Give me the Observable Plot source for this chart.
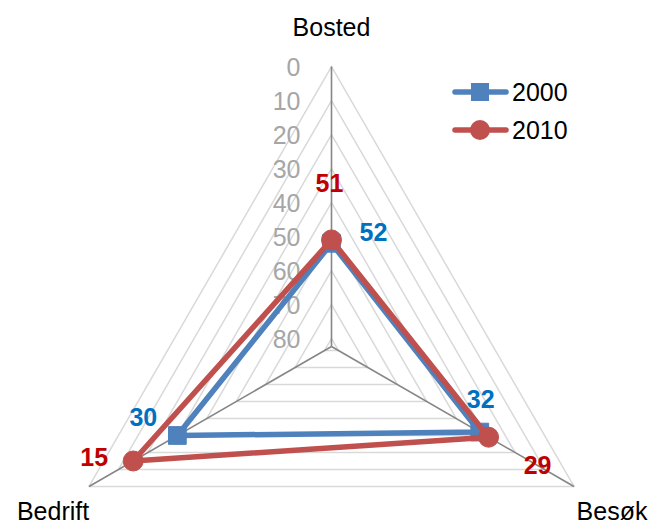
<!DOCTYPE html>
<html>
<head>
<meta charset="utf-8">
<script src="https://cdn.jsdelivr.net/npm/d3@7"></script>
<script src="https://cdn.jsdelivr.net/npm/@observablehq/plot@0.6"></script>
<style>
  html, body { margin: 0; padding: 0; background: #fff; }
  #wrap { position: relative; width: 651px; height: 524px; font-family: "Liberation Sans", Arial, sans-serif; }
  #legend { position: absolute; left: 452px; top: 73px; font-size: 25px; color: #000; }
  #legend .row { display: flex; align-items: center; height: 38px; }
  #legend svg { display: block; margin-right: 2px; }
</style>
</head>
<body>
<div id="wrap"><div id="chart"></div><div id="legend"></div></div>
<script>
// ---- data ----
const categories = ["Bosted", "Besøk", "Bedrift"];
const series = ["2000", "2010"];
const values2000 = [52, 32, 30];
const values2010 = [51, 29, 15];
const tickValues = [0, 10, 20, 30, 40, 50, 60, 70, 80];
const tickLabels = ["0", "10", "20", "30", "40", "50", "60", "70", "80"];

// ---- geometry (reversed radial axis: 0 outside, centre ~82.35) ----
const axisMax = 82.35;
const angleOf = i => (i * 120) * Math.PI / 180;
const polar = (i, v) => {
  const r = axisMax - v;
  return { x: r * Math.sin(angleOf(i)), y: r * Math.cos(angleOf(i)) };
};

const colors = { "2000": "#4f81bd", "2010": "#c0504d" };
const labelColors = { "2000": "#0070c0", "2010": "#c00000" };

const seriesData = [];
[values2000, values2010].forEach((vals, s) => {
  vals.forEach((v, i) => seriesData.push({ series: series[s], category: categories[i], value: v, ...polar(i, v) }));
});

const gridData = [];
tickValues.forEach(t => categories.forEach((c, i) => gridData.push({ t, ...polar(i, t) })));

const spokes = categories.map((c, i) => ({ category: c, x1: 0, y1: 0, x2: polar(i, 0).x, y2: polar(i, 0).y }));
const tickData = tickValues.map((t, k) => ({ label: tickLabels[k], ...polar(0, t) }));
const catData = categories.map((c, i) => ({ category: c, ...polar(i, 0) }));

// ---- layout ----
const W = 651, H = 524, cx = 331, cy = 346, k = 3.4;
const xDomain = [-cx / k, (W - cx) / k];
const yDomain = [-(H - cy) / k, cy / k];

const catOffsets = { "Bosted": [0, -39], "Besøk": [38, 26], "Bedrift": [-36, 26] };
const labelOffsets = {
  "2000|Bosted": [42, -10], "2000|Besøk": [1, -32], "2000|Bedrift": [-34, -17],
  "2010|Bosted": [-2, -56], "2010|Besøk": [49, 29], "2010|Bedrift": [-39, -3]
};

const font = "Liberation Sans, Arial, sans-serif";
const marks = [
  Plot.line(gridData, { x: "x", y: "y", z: "t", curve: "linear-closed", stroke: "#d9d9d9", strokeWidth: 1.5 }),
  Plot.link(spokes, { x1: "x1", y1: "y1", x2: "x2", y2: "y2", stroke: "#868686", strokeWidth: 1.6 }),
  Plot.text(tickData, { x: "x", y: "y", text: "label", dx: -31, dy: 1, textAnchor: "end", fill: "#a6a6a6", fontSize: 25, fontFamily: font })
];
series.forEach(s => {
  const d = seriesData.filter(e => e.series === s);
  marks.push(Plot.line(d, { x: "x", y: "y", curve: "linear-closed", stroke: colors[s], strokeWidth: 5.5, strokeLinejoin: "round" }));
  marks.push(Plot.dot(d, { x: "x", y: "y", symbol: s === "2000" ? "square" : "circle", r: s === "2000" ? 10 : 10, fill: colors[s], stroke: colors[s], strokeWidth: 1 }));
});
seriesData.forEach(e => {
  const [dx, dy] = labelOffsets[e.series + "|" + e.category];
  marks.push(Plot.text([e], { x: "x", y: "y", text: d => String(d.value), dx, dy, fill: labelColors[e.series], fontWeight: "bold", fontSize: 25, fontFamily: font }));
});
catData.forEach(e => {
  const [dx, dy] = catOffsets[e.category];
  marks.push(Plot.text([e], { x: "x", y: "y", text: "category", dx, dy, fill: "#000", fontSize: 25, fontFamily: font }));
});

const chart = Plot.plot({
  width: W, height: H,
  margin: 0,
  x: { domain: xDomain, range: [0, W], axis: null },
  y: { domain: yDomain, range: [H, 0], axis: null },
  style: { background: "#fff", fontFamily: font, overflow: "visible" },
  marks
});
document.getElementById("chart").append(chart);

// ---- legend ----
const legend = document.getElementById("legend");
series.forEach(s => {
  const row = document.createElement("div");
  row.className = "row";
  const marker = s === "2000"
    ? `<rect x="19" y="1" width="18" height="18" fill="${colors[s]}"/>`
    : `<circle cx="28" cy="10" r="10" fill="${colors[s]}"/>`;
  row.innerHTML = `<svg width="58" height="20"><line x1="3" y1="10" x2="54" y2="10" stroke="${colors[s]}" stroke-width="5.5" stroke-linecap="round"/>${marker}</svg><span>${s}</span>`;
  legend.appendChild(row);
});
</script>
</body>
</html>
